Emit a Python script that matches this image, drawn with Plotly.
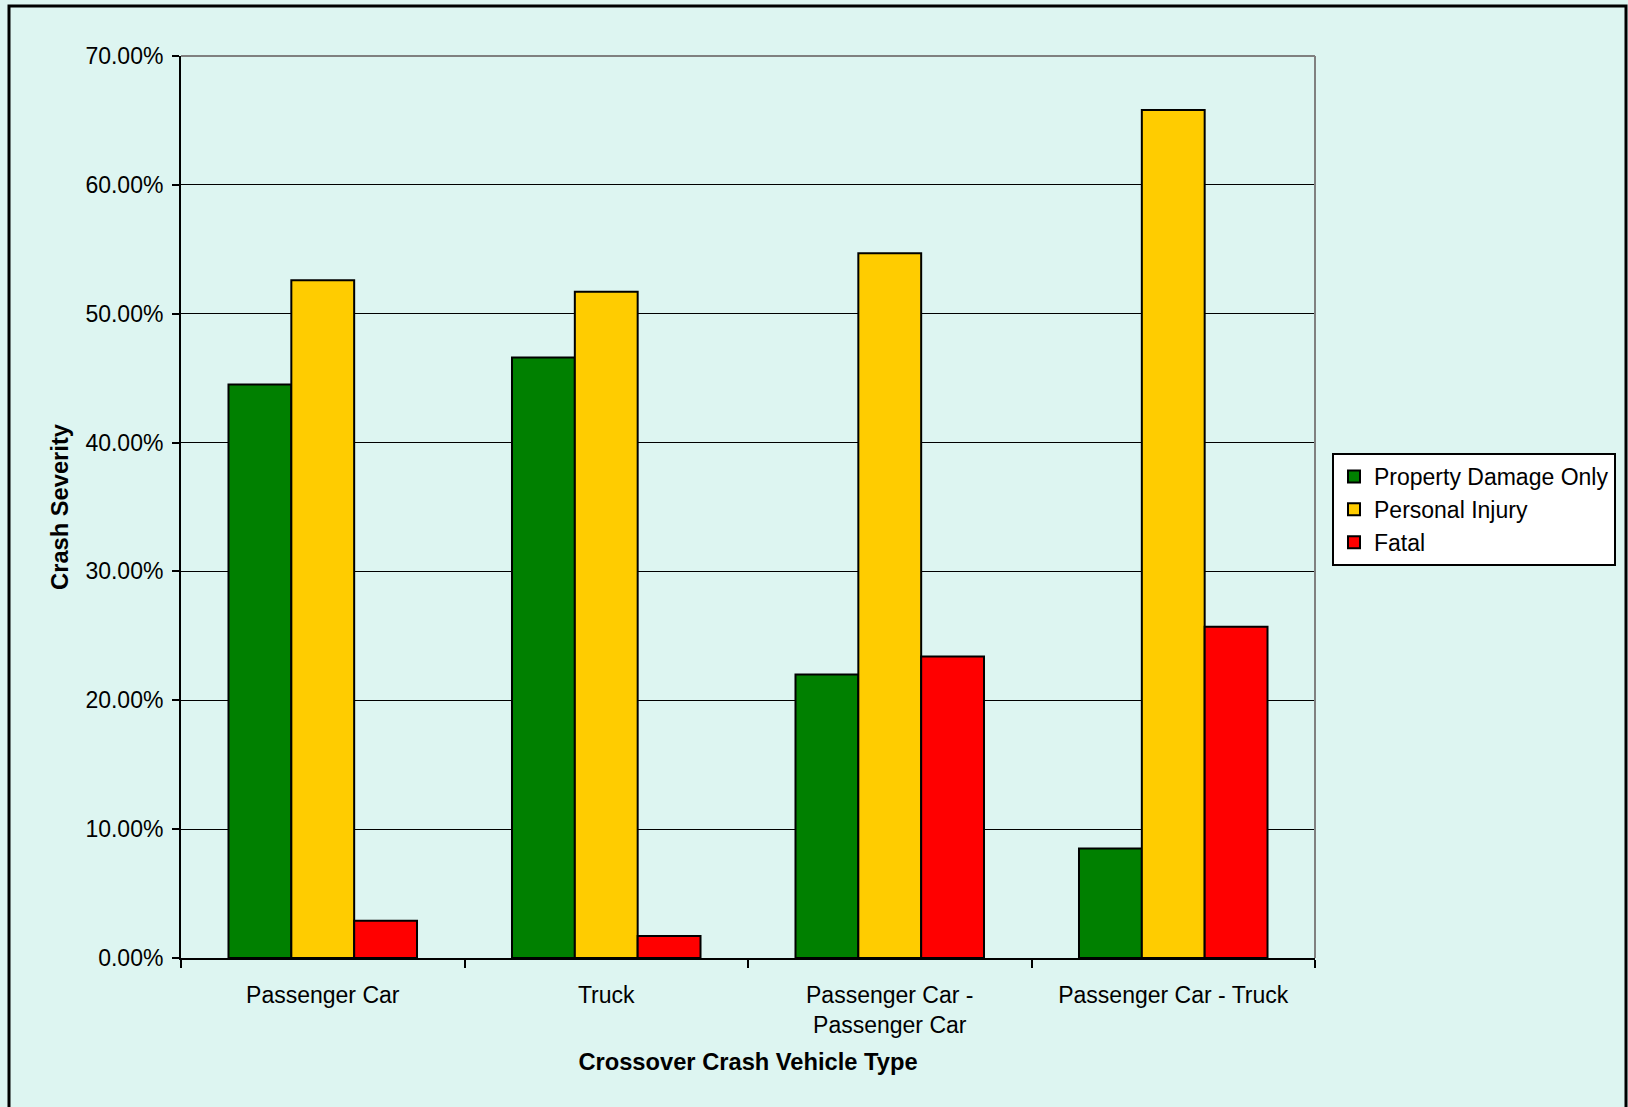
import plotly.graph_objects as go

categories = ["Passenger Car", "Truck", "Passenger Car -<br>Passenger Car", "Passenger Car - Truck"]
property_damage = [44.5, 46.6, 22.0, 8.5]
personal_injury = [52.6, 51.7, 54.7, 65.8]
fatal = [2.9, 1.7, 23.4, 25.7]
y_ticks = [0, 10, 20, 30, 40, 50, 60, 70]

BG = "#DDF5F1"
FONT = "Liberation Sans, Arial, sans-serif"

fig = go.Figure()
for name, vals, color in [
    ("Property Damage Only", property_damage, "#008000"),
    ("Personal Injury", personal_injury, "#FFCC00"),
    ("Fatal", fatal, "#FF0000"),
]:
    fig.add_trace(go.Bar(x=categories, y=vals, name=name,
                         marker=dict(color=color, line=dict(color="black", width=2))))

W, H = 1628, 1107
L, R, T, B = 181, 1315, 56, 958

def px(x):
    return (x - L) / (R - L)

def py(y):
    return (B - y) / (B - T)

fig.update_layout(
    width=W, height=H,
    margin=dict(l=L, r=W - R, t=T, b=H - B),
    paper_bgcolor=BG, plot_bgcolor=BG,
    font=dict(family=FONT, size=23, color="black"),
    barmode="group", bargap=0.335, bargroupgap=0,
    showlegend=True,
    legend=dict(x=px(1332), y=py(453), xanchor="left", yanchor="top",
                bgcolor="white", bordercolor="black", borderwidth=2,
                font=dict(size=23, family=FONT), tracegroupgap=0,
                itemwidth=30),
    xaxis=dict(
        type="category", tickson="boundaries", ticks="outside", ticklen=8,
        tickwidth=2, tickcolor="black", showline=True, linecolor="black",
        linewidth=2, showgrid=False, ticklabelstandoff=15,
        title=dict(text="<b>Crossover Crash Vehicle Type</b>", font=dict(size=23.7), standoff=17),
    ),
    yaxis=dict(
        range=[0, 70], tickvals=y_ticks,
        ticktext=[f"{v:.2f}%" for v in y_ticks],
        ticks="outside", ticklen=7, tickwidth=2, tickcolor="black",
        showline=True, linecolor="black", linewidth=2, ticklabelstandoff=4,
        showgrid=True, gridcolor="black", gridwidth=1, zeroline=False,
        title=dict(text="<b>Crash Severity</b>", font=dict(size=23.7), standoff=10),
    ),
    shapes=[
        dict(type="line", xref="paper", yref="paper", x0=0, x1=1, y0=1, y1=1,
             line=dict(color="#808080", width=2)),
        dict(type="line", xref="paper", yref="paper", x0=1, x1=1, y0=0, y1=1,
             line=dict(color="#808080", width=2)),
        dict(type="rect", xref="paper", yref="paper", x0=px(9), x1=px(1626),
             y0=py(1110), y1=py(6), line=dict(color="black", width=3),
             fillcolor="rgba(0,0,0,0)", layer="above"),
    ],
)

fig.write_html("out.html")
